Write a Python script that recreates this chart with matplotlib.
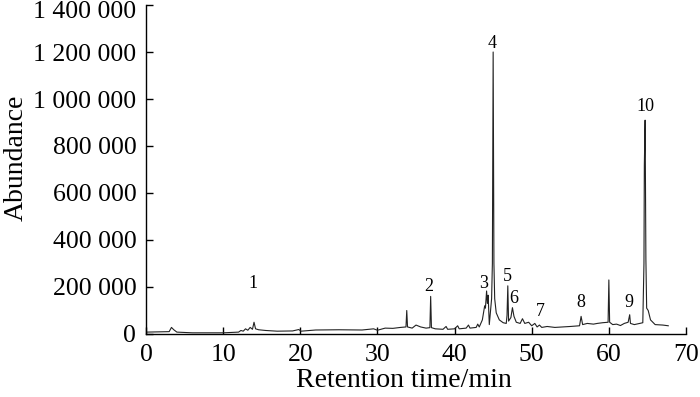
import matplotlib
matplotlib.use("Agg")
import matplotlib.pyplot as plt
import matplotlib.transforms as mtransforms
from matplotlib.ticker import FuncFormatter

plt.rcParams["font.family"] = ["Liberation Serif", "DejaVu Serif"]

# chromatogram: retention time (min), abundance
rt = [0.0, 1.5, 3.0, 3.3, 3.6, 4.0, 6.0, 10.0, 12.0, 12.3, 12.6, 12.9, 13.2,
      13.5, 13.8, 14.0, 14.2, 14.6, 15.5, 17.0, 19.0, 19.8, 20.1, 22.0, 25.0,
      28.0, 29.5, 30.0, 31.0, 32.0, 33.0, 33.7, 33.8, 33.9, 34.5, 35.0, 35.6,
      36.3, 36.8, 36.9, 37.0, 37.5, 38.5, 38.9, 39.1, 40.0, 40.4, 40.6, 41.5,
      41.8, 42.0, 42.8, 43.0, 43.2, 43.6, 43.9, 44.0, 44.15, 44.25, 44.35,
      44.5, 44.8, 44.9, 45.0, 45.1, 45.2, 45.4, 45.8, 46.3, 46.7, 46.8, 46.9,
      47.0, 47.3, 47.5, 47.7, 48.0, 48.5, 48.8, 49.1, 49.6, 50.0, 50.4, 50.7,
      51.0, 51.3, 52.0, 53.0, 54.0, 55.0, 56.2, 56.4, 56.6, 57.2, 58.0, 58.5,
      59.2, 59.9, 60.0, 60.1, 60.5, 61.0, 61.5, 62.0, 62.5, 62.7, 62.8, 63.3,
      64.0, 64.4, 64.55, 64.6, 64.7, 64.8, 64.9, 65.1, 65.4, 66.0, 67.0, 67.7]
abundance = [8000, 9000, 10000, 28000, 18000, 8000, 5000, 5000, 8000, 15000,
             12000, 22000, 16000, 28000, 20000, 50000, 22000, 18000, 15000,
             12000, 13000, 19000, 12000, 17000, 18000, 17000, 22000, 16000,
             25000, 24000, 28000, 30000, 100000, 30000, 25000, 38000, 30000,
             25000, 27000, 160000, 27000, 22000, 20000, 32000, 20000, 22000,
             35000, 22000, 25000, 38000, 25000, 28000, 42000, 30000, 60000,
             120000, 110000, 183000, 130000, 165000, 40000, 150000, 300000,
             1200000, 300000, 150000, 90000, 60000, 48000, 45000, 80000,
             205000, 55000, 70000, 112000, 75000, 50000, 45000, 65000, 45000,
             50000, 35000, 45000, 30000, 38000, 28000, 32000, 28000, 30000,
             32000, 35000, 75000, 40000, 45000, 42000, 45000, 48000, 50000,
             230000, 50000, 40000, 42000, 36000, 45000, 50000, 82000, 45000,
             40000, 45000, 48000, 300000, 720000, 910000, 320000, 110000,
             100000, 60000, 40000, 38000, 35000]

peak_names = ["1", "2", "3", "4", "5", "6", "7", "8", "9", "10"]
peak_rt = [13.9, 36.7, 43.8, 44.9, 46.8, 47.7, 51.1, 56.4, 62.6, 64.7]
peak_label_y = [217000, 200000, 217000, 1238000, 243000, 153000, 94000,
                132000, 132000, 970000]

fig = plt.figure(figsize=(7, 3.97), dpi=100)
ax = fig.add_axes([0.2086, 0.1587, 0.7714, 0.8287])

ax.plot(rt, abundance, color="#222222", lw=0.8)

for name, x, y in zip(peak_names, peak_rt, peak_label_y):
    ax.text(x, y, name, ha="center", va="center", fontsize=13)

ax.set_xlim(0, 70)
ax.set_ylim(0, 1400000)
ax.set_xticks(range(0, 71, 10))
ax.set_yticks(range(0, 1400001, 200000))
ax.yaxis.set_major_formatter(
    FuncFormatter(lambda v, p: f"{v:,.0f}".replace(",", " ")))

for s in ["top", "right"]:
    ax.spines[s].set_visible(False)
for s in ["left", "bottom"]:
    ax.spines[s].set_linewidth(1.0)

ax.tick_params(direction="in", labelsize=18.5, length=5, width=1, pad=7)
ax.set_xlabel("Retention time/min", fontsize=20)
ax.set_ylabel("Abundance", fontsize=20)
ax.xaxis.set_label_coords(0.478, -0.104)
ax.yaxis.set_label_coords(-0.218, 0.537)

# keep the top label inside the canvas
top = ax.get_yticklabels()[-1]
top.set_transform(top.get_transform() +
                  mtransforms.ScaledTranslation(0, -3 / 72, fig.dpi_scale_trans))

fig.savefig("out.png", dpi=100)
